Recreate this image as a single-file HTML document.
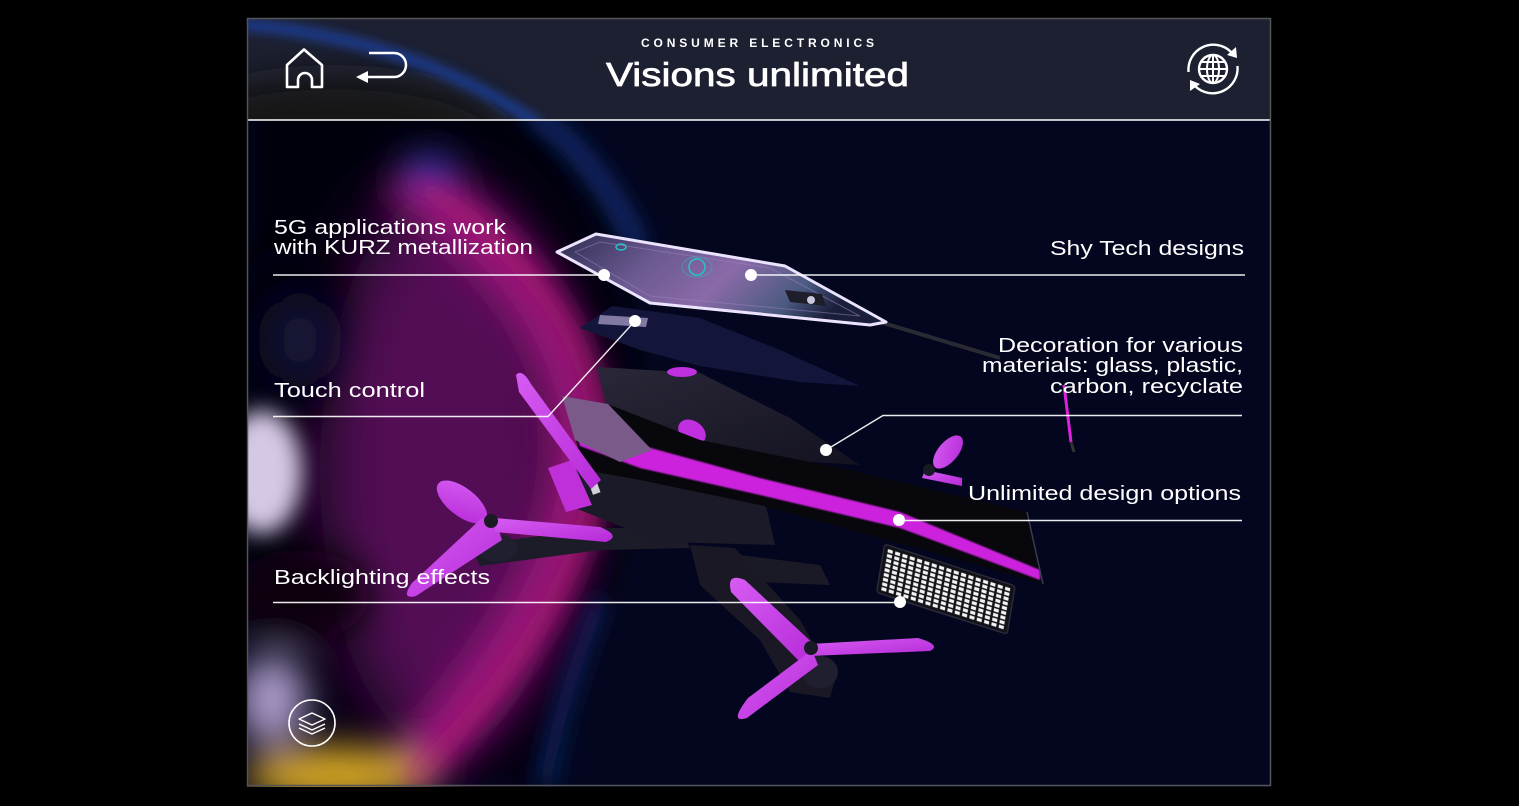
<!DOCTYPE html>
<html><head><meta charset="utf-8"><style>
html,body{margin:0;padding:0;background:#000;width:1519px;height:806px;overflow:hidden;}
svg{display:block;}
text{font-family:"Liberation Sans",sans-serif;fill:#fff;}
</style></head><body>
<svg width="1519" height="806" viewBox="0 0 1519 806" xmlns="http://www.w3.org/2000/svg">
<defs>
 <clipPath id="panel"><rect x="247" y="18" width="1024" height="769"/></clipPath>
 <clipPath id="hdr"><rect x="247" y="18" width="1024" height="102"/></clipPath>
 <filter id="b40" x="-50%" y="-50%" width="200%" height="200%"><feGaussianBlur stdDeviation="34"/></filter>
 <filter id="b20" x="-50%" y="-50%" width="200%" height="200%"><feGaussianBlur stdDeviation="18"/></filter>
 <filter id="b12" x="-50%" y="-50%" width="200%" height="200%"><feGaussianBlur stdDeviation="11"/></filter>
 <filter id="b6" x="-50%" y="-50%" width="200%" height="200%"><feGaussianBlur stdDeviation="5"/></filter>
 <filter id="b1" x="-20%" y="-20%" width="140%" height="140%"><feGaussianBlur stdDeviation="0.8"/></filter>
 <linearGradient id="phone" x1="0" y1="0" x2="1" y2="0.3">
  <stop offset="0" stop-color="#2e2c50"/>
  <stop offset="0.35" stop-color="#6c5a92"/>
  <stop offset="0.6" stop-color="#8a6aa8"/>
  <stop offset="0.85" stop-color="#4a5a80"/>
  <stop offset="1" stop-color="#1a1e3a"/>
 </linearGradient>
 <linearGradient id="canopy" x1="0" y1="0" x2="1" y2="1">
  <stop offset="0" stop-color="#2a2838"/>
  <stop offset="1" stop-color="#131220"/>
 </linearGradient>
 <linearGradient id="prop" x1="0" y1="0" x2="1" y2="1">
  <stop offset="0" stop-color="#d65cf2"/>
  <stop offset="1" stop-color="#b62ad8"/>
 </linearGradient>
 <pattern id="led" width="7.7" height="4.8" patternUnits="userSpaceOnUse">
  <rect x="1.2" y="0.7" width="5.2" height="3.3" fill="#f4f4f4"/>
 </pattern>
</defs>

<rect width="1519" height="806" fill="#000"/>

<!-- content background -->
<g clip-path="url(#panel)">
 <rect x="247" y="18" width="1024" height="769" fill="#03061e"/>
 <path d="M247,100 H525 Q665,300 632,460 Q612,640 535,786 H247 Z" fill="#050208" filter="url(#b12)"/>
 <path d="M528,110 Q600,160 640,250" stroke="#14307e" stroke-width="16" fill="none" filter="url(#b12)"/>
 <path d="M600,600 Q560,700 545,786" stroke="#0c2868" stroke-width="16" fill="none" filter="url(#b12)"/>
 <g filter="url(#b40)">
  <ellipse cx="445" cy="470" rx="125" ry="280" fill="#520c54"/>
 </g>
 <g filter="url(#b20)">
  <path d="M400,175 Q755,414 400,780" stroke="#9a167c" stroke-width="55" fill="none"/>
  <ellipse cx="285" cy="330" rx="55" ry="85" fill="#050210"/>
  <ellipse cx="300" cy="340" rx="30" ry="40" fill="#141438"/>
  <ellipse cx="430" cy="172" rx="28" ry="18" fill="#2a36a8"/>
  <ellipse cx="300" cy="595" rx="70" ry="45" fill="#0a0410"/>
  <ellipse cx="335" cy="775" rx="90" ry="28" fill="#d8a828"/>
  <ellipse cx="272" cy="700" rx="35" ry="45" fill="#a898c8"/>
 </g>
 <path d="M420,185 Q782,414 412,780" stroke="#b8186c" stroke-width="10" fill="none" opacity="0.8" filter="url(#b12)"/>
 <g filter="url(#b12)">
  <ellipse cx="262" cy="472" rx="40" ry="62" fill="#d4c8e6"/>
 </g>
</g>

<!-- header -->
<g clip-path="url(#hdr)">
 <rect x="247" y="18" width="1024" height="102" fill="#1d2031"/>
 <g filter="url(#b20)">
  <ellipse cx="335" cy="135" rx="170" ry="58" fill="#121216"/>
 </g>
 <path d="M240,24 Q420,40 540,126" stroke="#1c3a8c" stroke-width="12" fill="none" filter="url(#b6)"/>
</g>
<line x1="247" y1="120" x2="1271" y2="120" stroke="#fff" stroke-width="1.6"/>
<rect x="247.5" y="18.5" width="1023" height="767" fill="none" stroke="#555" stroke-width="1.5"/>

<!-- header text -->
<text x="641" y="47" font-size="12" font-weight="bold" textLength="233" lengthAdjust="spacing">CONSUMER ELECTRONICS</text>
<text x="606" y="86" font-size="33" stroke="#fff" stroke-width="0.7" textLength="303" lengthAdjust="spacingAndGlyphs">Visions unlimited</text>

<!-- home icon -->
<path d="M287,87 V65 L304,49.5 L322,65 V87 H312 V80 A7,7 0 0 0 298,80 V87 Z" fill="none" stroke="#fff" stroke-width="2.6" stroke-linejoin="round"/>
<!-- back icon -->
<path d="M369,53 H394 A12,12 0 0 1 394,77 H366" fill="none" stroke="#fff" stroke-width="2.5"/>
<polygon points="356,77 368,71 368,83" fill="#fff"/>
<!-- globe icon -->
<g fill="none" stroke="#fff" stroke-width="2.4">
 <path d="M1188.5,72 A25,25 0 0 1 1231,52"/>
 <path d="M1237.5,66 A25,25 0 0 1 1195,86"/>
 <circle cx="1213" cy="69" r="14"/>
 <ellipse cx="1213" cy="69" rx="6" ry="14" stroke-width="2"/>
 <line x1="1213" y1="55" x2="1213" y2="83" stroke-width="2"/>
 <line x1="1199" y1="69" x2="1227" y2="69" stroke-width="2"/>
 <line x1="1201" y1="62" x2="1225" y2="62" stroke-width="2"/>
 <line x1="1201" y1="76" x2="1225" y2="76" stroke-width="2"/>
</g>
<polygon points="1236,47 1237,58 1227,55" fill="#fff"/>
<polygon points="1190,91 1190,80 1200,84" fill="#fff"/>

<!-- drone -->
<path d="M880,322 L1000,358" stroke="#2a2a34" stroke-width="4" fill="none"/>
<path d="M1064,385 L1071,442" stroke="#e020e0" stroke-width="3" fill="none"/>
<path d="M1071,442 L1074,452" stroke="#333" stroke-width="3"/>
<polygon points="580,328 612,306 700,318 780,350 860,386 800,382 700,366 640,350" fill="#14153a"/>
<polygon points="600,315 648,318 646,327 598,324" fill="#a89cc8" opacity="0.75"/>
<polygon points="557,252 596,234 785,266 886,322 870,325 650,303" fill="url(#phone)" stroke="#ece4ff" stroke-width="3" stroke-linejoin="round"/>
<polygon points="575,252 600,242 770,268 860,316 650,296" fill="none" stroke="#9a86c0" stroke-width="1" opacity="0.5"/>
<circle cx="697" cy="267" r="8" fill="none" stroke="#2ac0c8" stroke-width="1.6"/>
<ellipse cx="697" cy="267" rx="15" ry="10" fill="none" stroke="#2ac0c8" stroke-width="1" opacity="0.5"/>
<ellipse cx="621" cy="247" rx="5" ry="3" fill="none" stroke="#2ac0c8" stroke-width="1.5"/>
<polygon points="785,290 822,294 826,306 790,302" fill="#1e1e2a"/>
<circle cx="811" cy="300" r="4" fill="#c8c8e0"/>

<polygon points="470,545 600,528 680,528 690,548 600,550 480,566" fill="#1c1b28"/>
<polygon points="690,545 735,548 800,620 835,680 830,698 790,692 760,640 700,585" fill="#191824"/>
<polygon points="740,555 820,565 830,585 760,582" fill="#1a1926"/>
<polygon points="560,465 640,470 760,480 775,545 660,542 575,508" fill="#1b1a28"/>
<ellipse cx="497" cy="548" rx="20" ry="14" fill="#201f30"/>
<ellipse cx="820" cy="672" rx="18" ry="16" fill="#201f30"/>
<polygon points="597,367 700,373 790,418 860,465 700,455 610,420" fill="url(#canopy)"/>
<ellipse cx="682" cy="372" rx="15" ry="5" fill="#c030e0"/>
<ellipse cx="692" cy="432" rx="15" ry="11" transform="rotate(35 692 432)" fill="#c030e0"/>
<polygon points="562,396 610,405 700,440 850,470 1027,512 1043,584 960,560 760,505 640,480 585,470" fill="#08070c"/>
<polygon points="572,420 640,445 760,478 900,512 1040,570 1040,580 900,528 760,495 640,468 580,446" fill="#cc22dd" filter="url(#b1)"/>
<polygon points="562,396 608,404 652,450 620,462 575,440" fill="#7a5a88"/>
<line x1="1027" y1="512" x2="1043" y2="584" stroke="#3a3a50" stroke-width="1.5"/>
<polygon points="548,468 572,460 592,505 566,512" fill="#c030d8"/>
<rect x="590" y="478" width="8" height="16" fill="#d0d0d8" transform="rotate(-20 594 486)"/>

<g fill="url(#prop)">
 <path d="M516,375 Q522,368 531,384 L601,480 L591,489 L519,392 Z"/>
 <ellipse cx="462" cy="502" rx="30" ry="14" transform="rotate(38 462 502)"/>
 <path d="M498,528 L482,518 L412,583 Q400,600 416,596 L502,540 Z"/>
 <path d="M495,518 L600,527 Q622,536 606,542 L495,532 Z"/>
 <path d="M818,648 L745,580 Q726,572 731,592 L800,662 Z"/>
 <path d="M812,650 L748,698 Q728,724 747,718 L818,665 Z"/>
 <path d="M810,644 L918,638 Q942,645 930,651 L810,656 Z"/>
 <ellipse cx="948" cy="452" rx="20" ry="10" transform="rotate(-50 948 452)"/>
 <path d="M925,470 L962,478 L962,486 L922,478 Z"/>
</g>
<circle cx="491" cy="521" r="7" fill="#1a1a24"/>
<circle cx="811" cy="648" r="7" fill="#1a1a24"/>
<circle cx="929" cy="470" r="6" fill="#1a1a24"/>

<g transform="matrix(0.9525,0.3049,-0.164,0.986,887,548)">
 <rect x="-3" y="-3" width="137" height="49" rx="3" fill="#111118" stroke="#2a2a3a" stroke-width="1.5"/>
 <rect x="0" y="0" width="131" height="43" fill="url(#led)"/>
</g>

<g stroke="#fff" stroke-width="1.4" fill="none" opacity="0.92">
 <path d="M273,275 H604"/>
 <path d="M751,275 H1245"/>
 <path d="M273,416.5 H548 L635,321"/>
 <path d="M826,450 L883,415.5 H1242"/>
 <path d="M899,520.5 H1242"/>
 <path d="M273,602.5 H900"/>
</g>
<g fill="#fff">
 <circle cx="604" cy="275" r="6"/>
 <circle cx="751" cy="275" r="6"/>
 <circle cx="635" cy="321" r="6"/>
 <circle cx="826" cy="450" r="6"/>
 <circle cx="899" cy="520" r="6"/>
 <circle cx="900" cy="602" r="6"/>
</g>

<g font-size="20">
 <text x="274" y="234" textLength="232" lengthAdjust="spacingAndGlyphs">5G applications work</text>
 <text x="274" y="254" textLength="259" lengthAdjust="spacingAndGlyphs">with KURZ metallization</text>
 <text x="274" y="397" textLength="151" lengthAdjust="spacingAndGlyphs">Touch control</text>
 <text x="274" y="584" textLength="216" lengthAdjust="spacingAndGlyphs">Backlighting effects</text>
 <text x="1050" y="255" textLength="194" lengthAdjust="spacingAndGlyphs">Shy Tech designs</text>
 <text x="998" y="352" textLength="245" lengthAdjust="spacingAndGlyphs">Decoration for various</text>
 <text x="982" y="372" textLength="261" lengthAdjust="spacingAndGlyphs">materials: glass, plastic,</text>
 <text x="1050" y="393" textLength="193" lengthAdjust="spacingAndGlyphs">carbon, recyclate</text>
 <text x="968" y="500" textLength="273" lengthAdjust="spacingAndGlyphs">Unlimited design options</text>
</g>

<circle cx="312" cy="723" r="23" fill="none" stroke="#fff" stroke-width="1.6"/>
<g fill="none" stroke="#fff" stroke-width="1.5" stroke-linejoin="round">
 <path d="M299,728 L312,734 L325,728"/>
 <path d="M299,724 L312,730 L325,724"/>
 <polygon points="299,719 312,713 325,719 312,725"/>
</g>
</svg>
</body></html>
